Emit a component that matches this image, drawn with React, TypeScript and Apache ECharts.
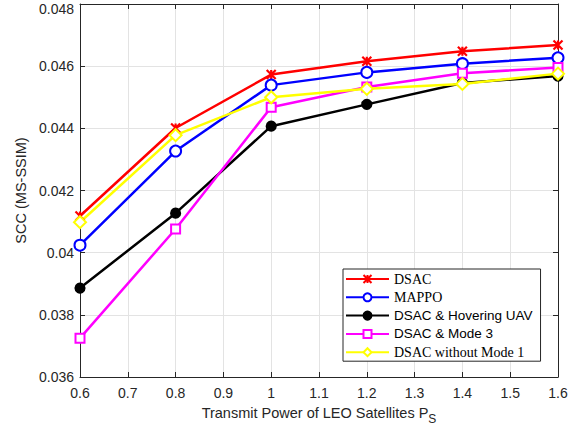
import React, { useEffect, useRef } from "react";
import * as echarts from "echarts";

const xValues = [0.6, 0.8, 1.0, 1.2, 1.4, 1.6];
const dsac = [0.04118, 0.04401, 0.04573, 0.04616, 0.04648, 0.04668];
const mappo = [0.04024, 0.04327, 0.04539, 0.0458, 0.04608, 0.04627];
const hovering = [0.03886, 0.04127, 0.04407, 0.04477, 0.04546, 0.04568];
const mode3 = [0.03725, 0.04076, 0.04468, 0.04533, 0.04577, 0.04596];
const withoutMode1 = [0.04098, 0.04378, 0.045, 0.04527, 0.04543, 0.04576];

const seriesNames = [
  "DSAC",
  "MAPPO",
  "DSAC & Hovering UAV",
  "DSAC & Mode 3",
  "DSAC without Mode 1",
];
const serifNames = ["DSAC", "MAPPO", "DSAC without Mode 1"];

const xMin = 0.6;
const xMax = 1.6;
const xStep = 0.1;
const yMin = 0.036;
const yMax = 0.048;
const yStep = 0.002;

const crossPath = "path://M0,0L10,10M10,0L0,10M5,0L5,10";

export default function App() {
  const ref = useRef<HTMLDivElement>(null);

  useEffect(() => {
    if (!ref.current) return;
    const chart = echarts.init(ref.current, undefined, { renderer: "svg" });
    const pair = (arr: number[]) => xValues.map((x, i) => [x, arr[i]]);
    const font = "'Liberation Sans', Arial, sans-serif";
    const axisColor = "#262626";
    const xFmt = (v: number) => String(parseFloat(v.toFixed(1)));
    const yFmt = (v: number) => {
      const s = String(parseFloat(v.toFixed(3)));
      return Math.abs(v - yMax) < 1e-9 ? `{top|${s}}` : s;
    };

    const lineSeries = (
      name: string,
      data: number[],
      color: string,
      symbol: string,
      symbolSize: number
    ) => ({
      name,
      type: "line",
      data: pair(data),
      symbol,
      symbolSize,
      showAllSymbol: true,
      lineStyle: { color, width: 2.5 },
      itemStyle: { color, borderColor: color, borderWidth: 2.2 },
      emphasis: { disabled: true },
      z: 3,
    });

    chart.setOption({
      animation: false,
      backgroundColor: "#ffffff",
      grid: {
        left: 80,
        right: 22,
        top: 4,
        bottom: 56,
        containLabel: false,
        outerBoundsMode: "none",
      },
      legend: {
        orient: "vertical",
        left: 343,
        top: 269,
        width: 194,
        padding: [3, 8, 2, 2],
        itemWidth: 43,
        itemHeight: 10,
        itemGap: 4.3,
        backgroundColor: "#ffffff",
        borderColor: "#262626",
        borderWidth: 1,
        data: seriesNames,
        formatter: (name: string) =>
          serifNames.includes(name) ? `{serif|${name}}` : `{sans|${name}}`,
        textStyle: {
          color: "#000",
          rich: {
            serif: {
              fontFamily: "'Liberation Serif', 'DejaVu Serif', serif",
              fontSize: 14,
              color: "#000",
            },
            sans: {
              fontFamily: font,
              fontSize: 13.5,
              color: "#000",
            },
          },
        },
      },
      xAxis: [
        {
          type: "value",
          min: xMin,
          max: xMax,
          interval: xStep,
          position: "bottom",
          name: "Transmit Power of LEO Satellites P{sub|S}",
          nameLocation: "middle",
          nameGap: 24,
          nameTextStyle: {
            fontFamily: font,
            fontSize: 14.5,
            color: axisColor,
            rich: {
              sub: {
                fontFamily: font,
                fontSize: 12,
                color: axisColor,
                verticalAlign: "bottom",
                padding: [12, 0, 0, 0],
              },
            },
          },
          axisLine: { show: true, lineStyle: { color: axisColor, width: 1 } },
          axisTick: { show: true, inside: true, length: 5, lineStyle: { color: axisColor } },
          axisLabel: {
            formatter: xFmt,
            fontFamily: font,
            fontSize: 14,
            color: axisColor,
            margin: 9,
          },
          splitLine: { show: true, lineStyle: { color: "#e3e3e3", width: 1 } },
        },
        {
          type: "value",
          min: xMin,
          max: xMax,
          interval: xStep,
          position: "top",
          axisLine: { show: true, lineStyle: { color: axisColor, width: 1 } },
          axisTick: { show: true, inside: true, length: 5, lineStyle: { color: axisColor } },
          axisLabel: { show: false },
          splitLine: { show: false },
        },
      ],
      yAxis: [
        {
          type: "value",
          min: yMin,
          max: yMax,
          interval: yStep,
          position: "left",
          name: "SCC (MS-SSIM)",
          nameLocation: "middle",
          nameGap: 46,
          nameTextStyle: { fontFamily: font, fontSize: 14.5, color: axisColor },
          axisLine: { show: true, lineStyle: { color: axisColor, width: 1 } },
          axisTick: { show: true, inside: true, length: 5, lineStyle: { color: axisColor } },
          axisLabel: {
            formatter: yFmt,
            fontFamily: font,
            fontSize: 14,
            color: axisColor,
            margin: 6,
            rich: {
              top: {
                fontFamily: font,
                fontSize: 14,
                color: axisColor,
                padding: [9, 0, 0, 0],
              },
            },
          },
          splitLine: { show: true, lineStyle: { color: "#e3e3e3", width: 1 } },
        },
        {
          type: "value",
          min: yMin,
          max: yMax,
          interval: yStep,
          position: "right",
          axisLine: { show: true, lineStyle: { color: axisColor, width: 1 } },
          axisTick: { show: true, inside: true, length: 5, lineStyle: { color: axisColor } },
          axisLabel: { show: false },
          splitLine: { show: false },
        },
      ],
      series: [
        lineSeries(seriesNames[0], dsac, "#ff0000", crossPath, 9),
        lineSeries(seriesNames[1], mappo, "#0000ff", "emptyCircle", 11),
        lineSeries(seriesNames[2], hovering, "#000000", "circle", 9),
        lineSeries(seriesNames[3], mode3, "#ff00ff", "emptyRect", 9),
        lineSeries(seriesNames[4], withoutMode1, "#ffff00", "emptyDiamond", 12),
      ],
    });

    return () => chart.dispose();
  }, []);

  return (
    <div
      ref={ref}
      style={{ position: "fixed", left: 0, top: 0, width: 580, height: 433 }}
    />
  );
}
